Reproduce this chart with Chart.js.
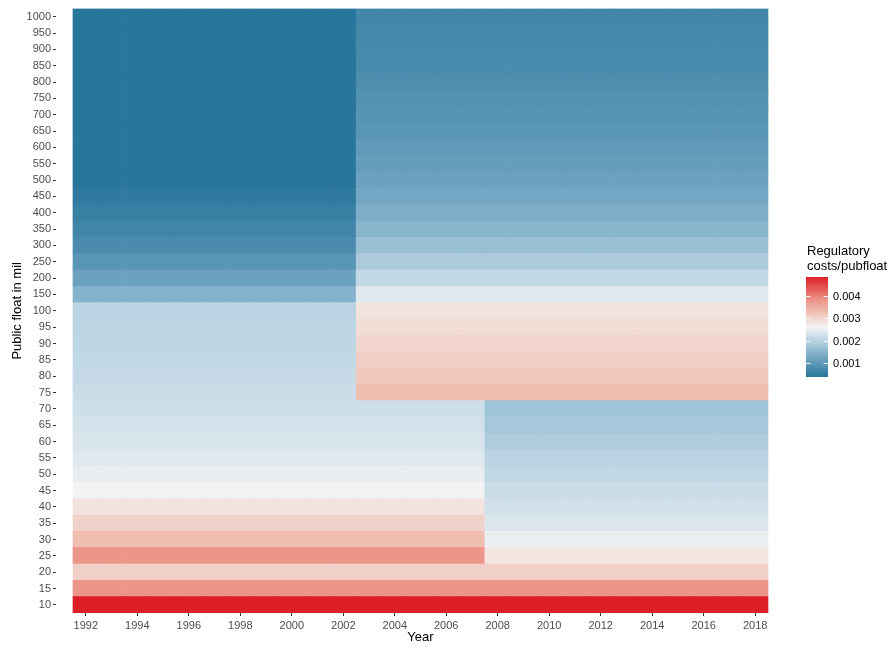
<!DOCTYPE html>
<html>
<head>
<meta charset="utf-8">
<script src="https://cdn.jsdelivr.net/npm/chart.js@4/dist/chart.umd.min.js"></script>
<style>
html,body{margin:0;padding:0;background:#fff;}
#c{display:block;}
</style>
</head>
<body>
<canvas id="c" width="894" height="648"></canvas>
<script>
// ---- data ----
const years = [1992,1993,1994,1995,1996,1997,1998,1999,2000,2001,2002,2003,2004,2005,2006,2007,2008,2009,2010,2011,2012,2013,2014,2015,2016,2017,2018];
const yearTicks = [1992,1994,1996,1998,2000,2002,2004,2006,2008,2010,2012,2014,2016,2018];
const floatLabels = ['10','15','20','25','30','35','40','45','50','55','60','65','70','75','80','85','90','95','100','150','200','250','300','350','400','450','500','550','600','650','700','750','800','850','900','950','1000'];
// values per float row (bottom to top), by period
const cost1992to2002 = [0.00484,0.00379,0.00305,0.00379,0.0033,0.00303,0.0028,0.0026,0.00248,0.00239,0.00231,0.00225,0.0022,0.00215,0.00211,0.00207,0.00204,0.00201,0.00198,0.00146,0.00116,0.00093,0.00077,0.00065,0.00054,0.00045,0.00037,0.00037,0.00037,0.00037,0.00037,0.00037,0.00037,0.00037,0.00037,0.00037,0.00037];
const cost2003to2007 = [0.00484,0.00379,0.00305,0.00379,0.0033,0.00303,0.0028,0.0026,0.00248,0.00239,0.00231,0.00225,0.0022,0.0033,0.00317,0.00306,0.003,0.0029,0.0028,0.00238,0.00208,0.00184,0.00165,0.00149,0.00136,0.00125,0.00116,0.00108,0.00101,0.00095,0.0009,0.00085,0.0008,0.00076,0.00072,0.00069,0.00066];
const cost2008to2018 = [0.00484,0.00379,0.00305,0.00278,0.0025,0.00235,0.00224,0.00215,0.00206,0.00198,0.00186,0.00179,0.00172,0.0033,0.00317,0.00306,0.003,0.0029,0.0028,0.00238,0.00208,0.00184,0.00165,0.00149,0.00136,0.00125,0.00116,0.00108,0.00101,0.00095,0.0009,0.00085,0.0008,0.00076,0.00072,0.00069,0.00066];
const legendTicks = [0.001,0.002,0.003,0.004];
const legendTickLabels = ['0.001','0.002','0.003','0.004'];

function valueFor(year, i){
  if (year <= 2002) return cost1992to2002[i];
  if (year <= 2007) return cost2003to2007[i];
  return cost2008to2018[i];
}
const allVals = cost1992to2002.concat(cost2003to2007, cost2008to2018);
const vMin = Math.min(...allVals), vMax = Math.max(...allVals);
const vMid = 0.0026;

// ---- colour (piecewise gradient, low -> mid -> high) ----
const blueStopsT = [0, 0.49, 0.7, 1];
const blueStopsC = ['#29769C', '#86B3CC', '#B4D1E1', '#F3F3F3'];
const redStopsT = [0, 0.31, 0.53, 1];
const redStopsC = ['#F3F3F3', '#F0BDB1', '#EC958A', '#DC1F26'];
function hex2rgb(h){return [parseInt(h.substr(1,2),16),parseInt(h.substr(3,2),16),parseInt(h.substr(5,2),16)];}
function ramp(ts, cs, t){
  t = Math.max(0, Math.min(1, t));
  for (let k = 1; k < ts.length; k++) {
    if (t <= ts[k]) {
      const u = (t - ts[k-1]) / (ts[k] - ts[k-1]);
      const a = hex2rgb(cs[k-1]), b = hex2rgb(cs[k]);
      return 'rgb(' + [0,1,2].map(j => Math.round(a[j] + (b[j] - a[j]) * u)).join(',') + ')';
    }
  }
  return cs[cs.length-1];
}
function colorFor(v){
  if (v <= vMid) return ramp(blueStopsT, blueStopsC, (v - vMin) / (vMid - vMin));
  return ramp(redStopsT, redStopsC, (v - vMid) / (vMax - vMid));
}

const FONT = '"Liberation Sans", Arial, Helvetica, sans-serif';

const datasets = floatLabels.map((lab, i) => ({
  label: lab,
  data: years.map(y => ({x: y, y: 1})),
  backgroundColor: years.map(y => colorFor(valueFor(y, i))),
  borderWidth: 0,
  barPercentage: 1,
  categoryPercentage: 1
}));

const extras = {
  id: 'extras',
  afterDraw(chart){
    const ctx = chart.ctx, ca = chart.chartArea;
    ctx.save();
    ctx.fillStyle = '#000';
    ctx.font = '13px ' + FONT;
    ctx.textAlign = 'center';
    ctx.textBaseline = 'middle';
    ctx.fillText('Year', (ca.left + ca.right) / 2, 637);
    ctx.save();
    ctx.translate(17, (ca.top + ca.bottom) / 2);
    ctx.rotate(-Math.PI / 2);
    ctx.fillText('Public float in mil', 0, 0);
    ctx.restore();
    // legend
    ctx.textAlign = 'left';
    ctx.fillText('Regulatory', 807, 251);
    ctx.fillText('costs/pubfloat', 807, 266);
    const bx = 806, bw = 22, by = 277, bh = 100;
    for (let p = 0; p < bh; p++) {
      const v = vMax - (p + 0.5) / bh * (vMax - vMin);
      ctx.fillStyle = colorFor(v);
      ctx.fillRect(bx, by + p, bw, 1);
    }
    ctx.font = '11px ' + FONT;
    ctx.fillStyle = '#000';
    ctx.strokeStyle = '#fff';
    ctx.lineWidth = 1;
    legendTicks.forEach((v, k) => {
      const yy = Math.round(by + (vMax - v) / (vMax - vMin) * bh) + 0.5;
      ctx.beginPath();
      ctx.moveTo(bx, yy); ctx.lineTo(bx + 4.4, yy);
      ctx.moveTo(bx + bw - 4.4, yy); ctx.lineTo(bx + bw, yy);
      ctx.stroke();
      ctx.fillText(legendTickLabels[k], 833, yy);
    });
    ctx.restore();
  }
};

new Chart(document.getElementById('c'), {
  type: 'bar',
  data: { datasets },
  options: {
    responsive: false,
    animation: false,
    devicePixelRatio: 1,
    layout: { padding: { top: 7, right: 109, left: 0, bottom: 0 } },
    plugins: { legend: { display: false }, tooltip: { enabled: false } },
    scales: {
      x: {
        type: 'linear', stacked: true, min: 1990.84, max: 2019.16, offset: false,
        grid: { offset: false, drawOnChartArea: false, drawTicks: true, tickLength: 3, tickColor: '#333', tickWidth: 1 },
        border: { display: false },
        ticks: { autoSkip: false, maxRotation: 0, padding: 3, color: '#4D4D4D', font: { size: 11, family: FONT }, callback: v => String(v) },
        afterBuildTicks: s => { s.ticks = yearTicks.map(v => ({ value: v })); },
        afterFit: s => { s.height = 35; }
      },
      y: {
        type: 'linear', stacked: true, min: 0, max: floatLabels.length, offset: false,
        grid: { offset: false, drawOnChartArea: false, drawTicks: true, tickLength: 3, tickColor: '#333', tickWidth: 1 },
        border: { display: false },
        ticks: { autoSkip: false, padding: 2, color: '#4D4D4D', font: { size: 11, family: FONT }, callback: (v, i) => floatLabels[i] },
        afterBuildTicks: s => { s.ticks = floatLabels.map((l, i) => ({ value: i + 0.5 })); },
        afterFit: s => { s.width = 56; }
      }
    }
  },
  plugins: [extras]
});
</script>
</body>
</html>
